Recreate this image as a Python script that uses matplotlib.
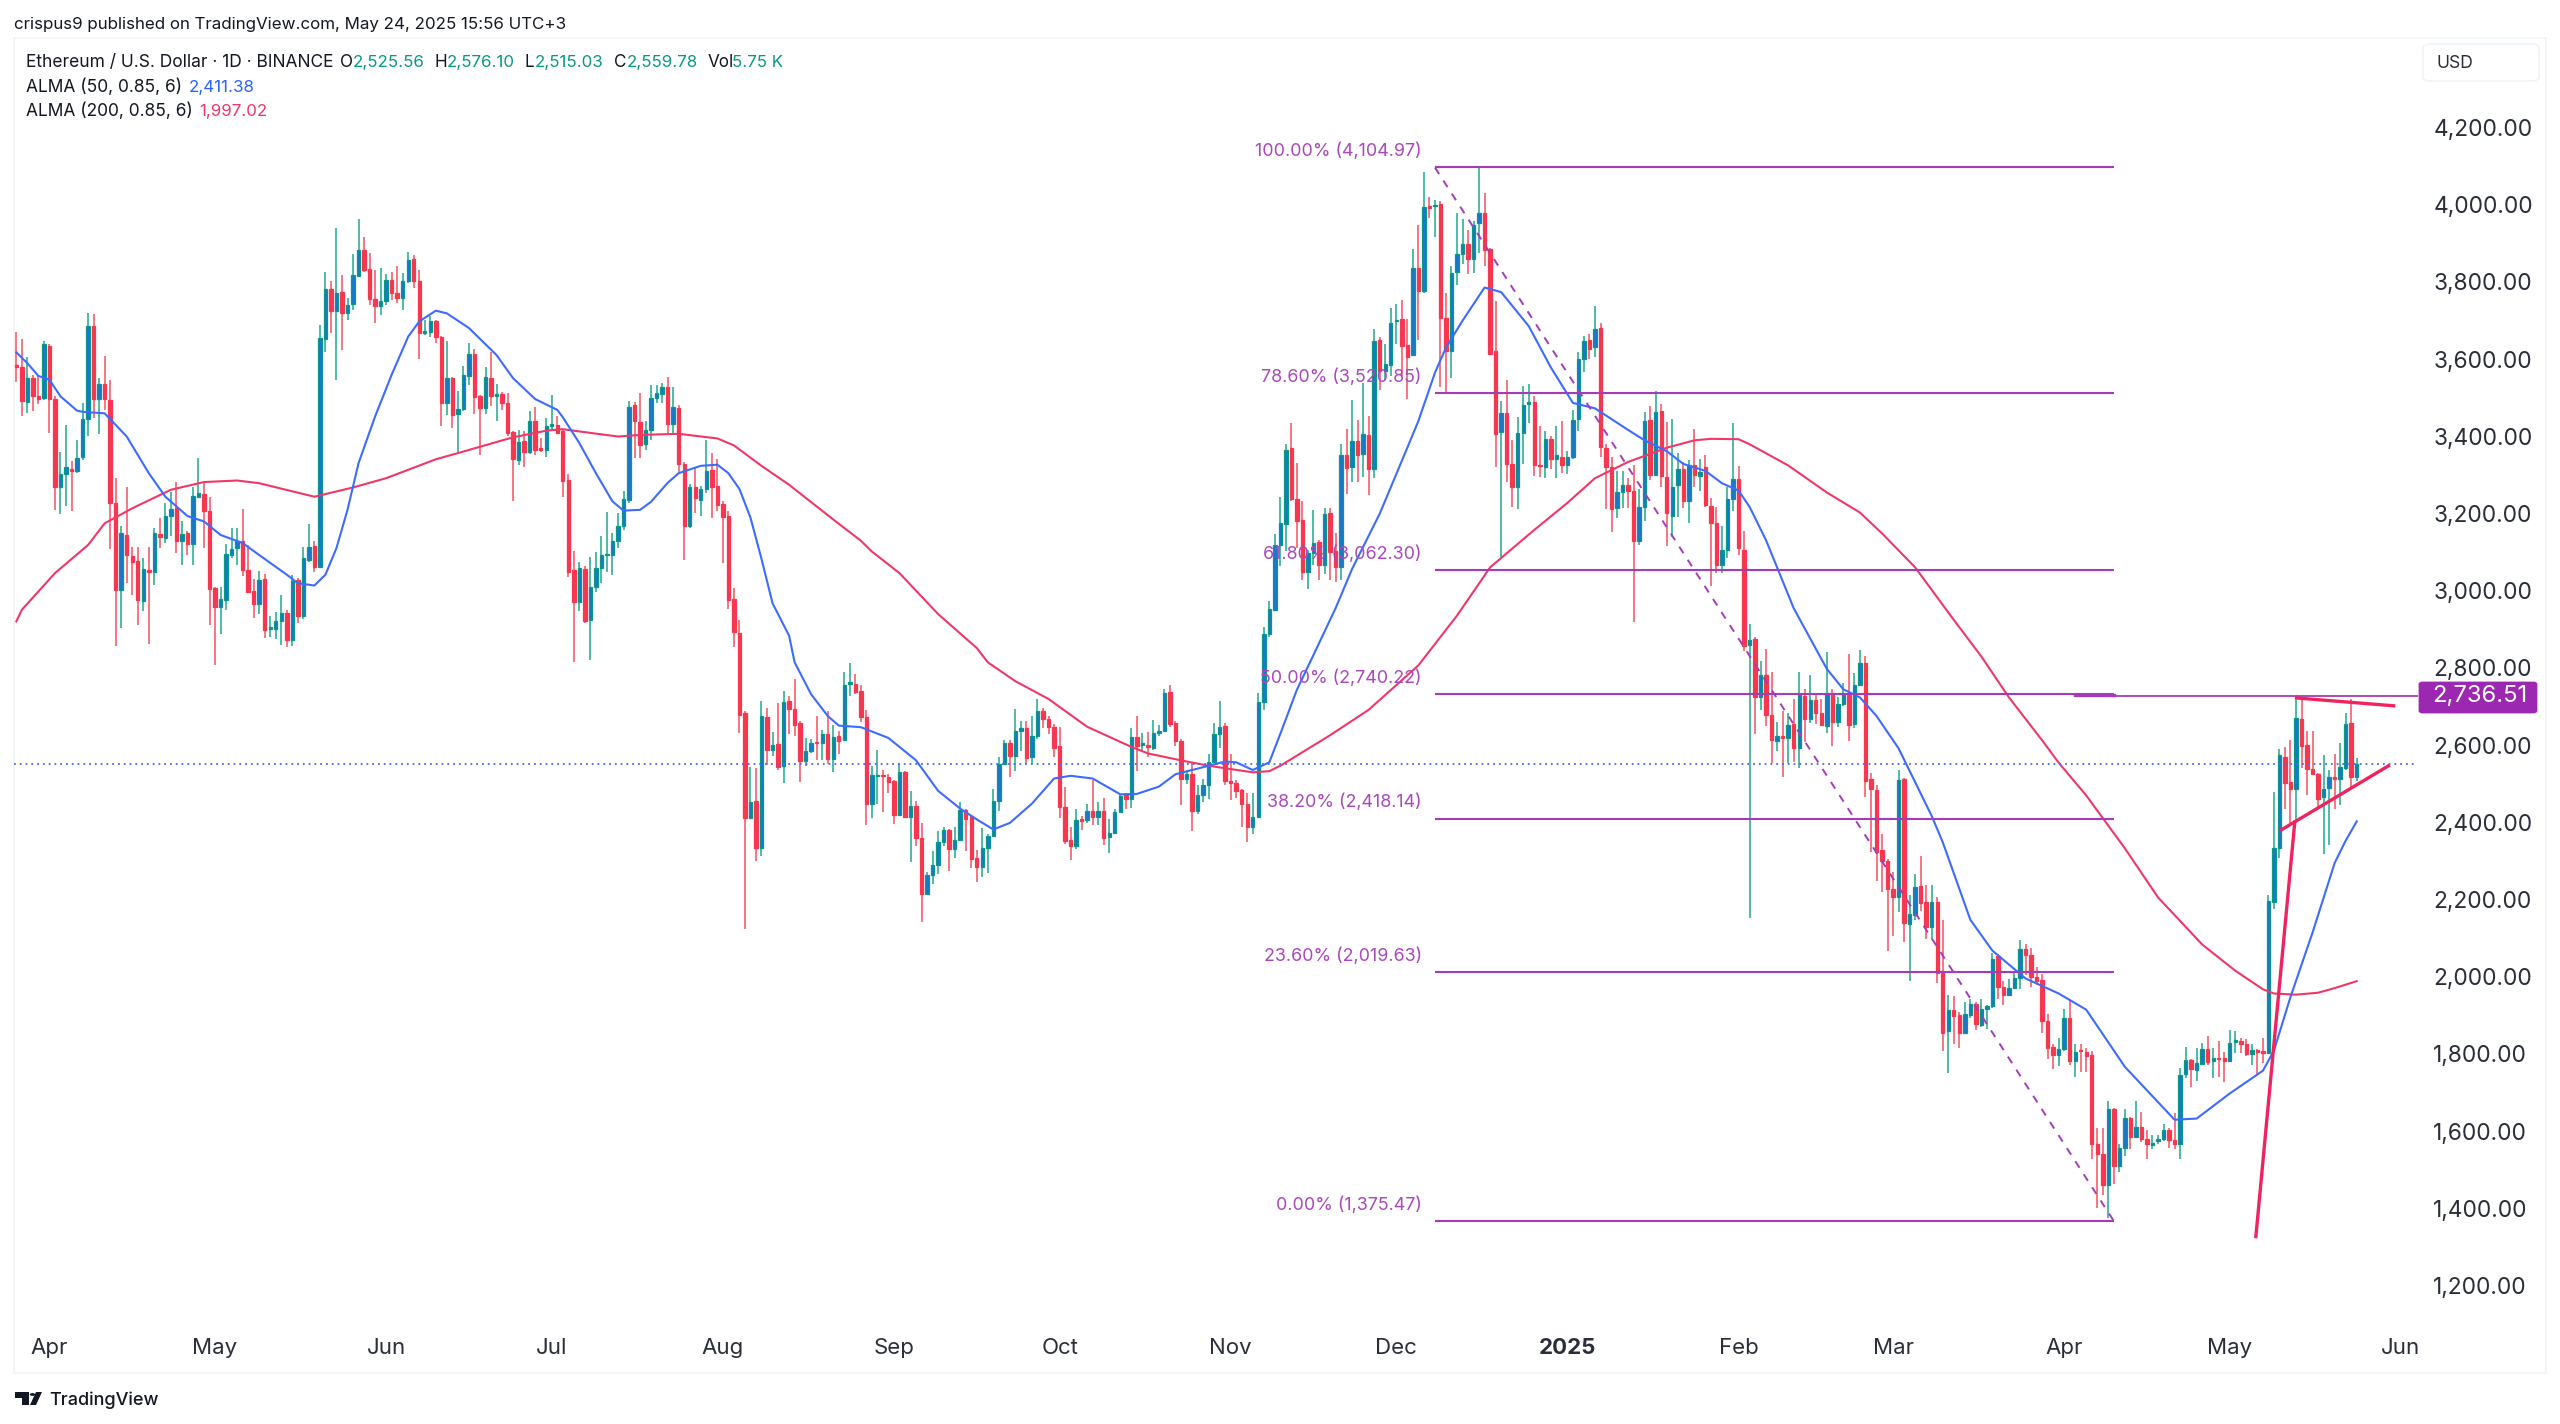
import numpy as np
import pandas as pd
import matplotlib
matplotlib.use('Agg')
import matplotlib.pyplot as plt
from matplotlib.patches import Rectangle, FancyBboxPatch, Polygon, Circle
from matplotlib.transforms import ScaledTranslation

plt.rcParams['font.family'] = ['Inter', 'DejaVu Sans']

# daily candles (open, high, low, close), first one is 2024-03-26
candles_spring_2024 = [
    (3583,3669,3539,3578),(3578,3652,3451,3490),(3489,3604,3459,3550),(3550,3559,3465,3503),(3504,3559,3483,3497),
    (3498,3647,3494,3638),(3634,3638,3408,3496),(3497,3503,3209,3267),(3269,3358,3197,3302),(3301,3429,3218,3319),
    (3316,3335,3207,3310),(3310,3389,3304,3343),(3345,3485,3338,3445),(3444,3718,3401,3686),(3684,3716,3446,3497),
    (3497,3550,3406,3535),(3534,3608,3468,3496),(3494,3546,3107,3228),(3226,3291,2855,3002),(3002,3167,2902,3149),
    (3144,3269,3019,3092),(3090,3114,2989,3075),(3077,3114,2911,2976),(2974,3084,2948,3056),(3053,3114,2861,3048),
    (3048,3161,3015,3148),(3146,3187,3110,3138),(3137,3226,3123,3192),(3192,3256,3140,3211),(3213,3282,3097,3129),
    (3127,3179,3066,3146),(3148,3153,3092,3121),(3121,3269,3065,3246),(3243,3344,3243,3252),(3249,3282,3110,3206),
    (3205,3242,2911,3004),(3006,3010,2807,2958),(2958,3009,2887,2978),(2976,3120,2950,3095),(3092,3161,3085,3108),
    (3111,3161,3066,3129),(3129,3212,3038,3053),(3053,3118,2995,2997),(2999,3029,2930,2965),(2965,3051,2940,3028),
    (3029,3043,2876,2898),(2901,2933,2879,2905),(2901,2944,2875,2920),(2922,2989,2859,2941),(2941,2950,2853,2872),
    (2872,3041,2855,3025),(3028,3032,2917,2934),(2934,3114,2926,3084),(3079,3173,3075,3114),(3116,3127,3049,3060),
]
candles_summer_2024 = [
    (3060,3688,3058,3653),(3652,3826,3619,3780),(3780,3803,3666,3725),(3725,3940,3545,3772),(3773,3818,3623,3718),
    (3718,3757,3701,3740),(3742,3872,3727,3818),(3815,3963,3813,3882),(3882,3917,3826,3830),(3832,3874,3740,3754),
    (3754,3830,3694,3736),(3736,3835,3714,3750),(3750,3819,3740,3805),(3805,3826,3753,3772),(3772,3842,3746,3757),
    (3757,3822,3727,3802),(3802,3876,3796,3856),(3858,3869,3783,3803),(3802,3830,3599,3668),(3666,3701,3662,3673),
    (3671,3710,3658,3697),(3697,3701,3641,3656),(3656,3660,3427,3487),(3487,3647,3455,3550),(3550,3552,3420,3455),
    (3458,3518,3356,3470),(3471,3582,3464,3559),(3557,3641,3533,3613),(3613,3625,3458,3501),(3503,3507,3350,3474),
    (3474,3578,3458,3552),(3550,3617,3477,3503),(3503,3535,3438,3509),(3509,3515,3468,3487),(3487,3513,3401,3409),
    (3410,3414,3233,3342),(3338,3416,3325,3384),(3387,3414,3319,3359),(3359,3464,3354,3439),(3439,3475,3351,3364),
    (3369,3395,3360,3364),(3364,3448,3347,3425),(3425,3507,3412,3431),(3429,3453,3406,3409),(3412,3416,3243,3284),
    (3287,3302,3036,3048),(3053,3103,2814,2971),(2971,3073,2948,3058),(3056,3064,2915,2920),(2924,3086,2819,3010),
    (3010,3101,2997,3058),(3058,3142,3019,3092),(3091,3203,3047,3094),(3092,3148,3041,3127),(3127,3200,3110,3168),
    (3166,3259,3157,3237),(3235,3490,3228,3475),(3481,3489,3343,3438),(3436,3511,3343,3377),(3379,3440,3364,3416),
    (3416,3533,3390,3498),(3498,3533,3485,3511),(3509,3537,3485,3528),(3528,3552,3407,3431),(3431,3528,3407,3475),
]
candles_autumn_2024 = [
    (3474,3480,3302,3327),(3329,3332,3079,3166),(3166,3277,3161,3267),(3267,3318,3200,3240),(3235,3272,3193,3263),
    (3263,3390,3252,3309),(3311,3355,3189,3269),(3272,3341,3207,3221),(3224,3232,3070,3191),(3193,3207,2953,2976),
    (2978,3006,2853,2893),(2891,2923,2631,2677),(2683,2687,2123,2410),(2410,2543,2407,2453),(2455,2541,2300,2333),
    (2333,2715,2313,2675),(2672,2696,2548,2587),(2587,2634,2572,2601),(2602,2709,2536,2543),(2546,2740,2501,2712),
    (2714,2728,2629,2692),(2694,2770,2624,2652),(2657,2661,2504,2558),(2558,2618,2546,2583),(2583,2615,2578,2604),
    (2608,2675,2560,2604),(2604,2638,2561,2629),(2629,2687,2550,2564),(2564,2652,2529,2620),(2622,2635,2576,2610),
    (2613,2789,2610,2754),(2758,2812,2726,2762),(2758,2783,2731,2738),(2740,2754,2659,2672),(2672,2691,2393,2448),
    (2448,2546,2411,2521),(2519,2587,2448,2523),(2523,2536,2425,2519),(2516,2524,2476,2504),(2506,2509,2396,2418),
    (2418,2553,2416,2529),(2529,2532,2410,2412),(2413,2481,2296,2441),(2442,2456,2339,2358),(2360,2398,2141,2215),
    (2215,2270,2212,2263),(2263,2324,2240,2288),(2288,2376,2265,2349),(2349,2388,2339,2379),(2379,2381,2273,2330),
    (2331,2388,2308,2353),(2353,2453,2351,2432),(2432,2435,2326,2409),(2416,2419,2280,2305),(2307,2328,2245,2285),
    (2285,2386,2259,2333),(2333,2370,2268,2365),(2365,2486,2363,2455),(2456,2569,2430,2550),(2550,2613,2548,2604),
    (2606,2613,2516,2571),(2571,2694,2532,2635),(2635,2661,2583,2645),(2645,2661,2550,2567),(2569,2675,2550,2624),
    (2624,2719,2615,2687),(2687,2696,2643,2666),(2668,2675,2627,2646),(2647,2654,2569,2592),(2597,2647,2410,2439),
    (2439,2490,2344,2351),(2354,2388,2302,2337),(2337,2435,2330,2405),(2407,2416,2379,2402),(2405,2446,2398,2430),
    (2430,2509,2393,2412),(2412,2453,2393,2430),(2430,2462,2340,2358),(2361,2407,2321,2373),(2373,2435,2370,2427),
    (2427,2472,2425,2467),(2472,2476,2435,2460),(2460,2645,2436,2620),(2620,2675,2532,2597),(2600,2632,2583,2604),
    (2601,2634,2569,2595),(2592,2664,2587,2631),(2631,2652,2624,2636),(2636,2746,2634,2735),(2737,2756,2647,2655),
    (2657,2661,2597,2610),(2610,2615,2444,2513),(2513,2536,2499,2524),(2524,2555,2377,2428),(2428,2495,2421,2470),
    (2470,2513,2453,2495),(2495,2576,2460,2555),(2555,2657,2553,2627),(2627,2714,2592,2647),(2650,2657,2495,2506),
    (2506,2576,2458,2501),(2501,2509,2462,2481),(2483,2486,2387,2446),(2447,2476,2349,2387),(2387,2476,2370,2412),
]
candles_winter_2024 = [
    (2414,2735,2412,2712),(2712,2906,2691,2888),(2888,2974,2879,2953),(2950,3147,2948,3119),(3118,3241,3063,3176),
    (3173,3379,3102,3365),(3370,3433,3231,3236),(3236,3330,3109,3180),(3183,3231,3028,3048),(3048,3106,3005,3097),
    (3097,3208,3065,3123),(3125,3130,3028,3065),(3065,3215,3042,3199),(3201,3213,3028,3100),(3102,3148,3023,3060),
    (3060,3379,3026,3350),(3352,3418,3250,3317),(3319,3493,3282,3387),(3387,3441,3282,3352),(3353,3538,3294,3405),
    (3402,3453,3248,3316),(3316,3677,3291,3646),(3648,3657,3520,3569),(3569,3638,3546,3586),(3583,3731,3555,3694),
    (3697,3742,3638,3700),(3703,3752,3555,3634),(3636,3703,3495,3606),(3611,3886,3609,3835),(3835,3948,3648,3777),
    (3777,4084,3770,3993),(3996,4020,3964,3990),(3995,4013,3916,3999),(4001,4008,3527,3706),(3706,3772,3513,3620),
    (3620,3842,3550,3823),(3825,3979,3791,3872),(3872,3962,3847,3897),(3899,3934,3819,3859),(3860,3958,3823,3948),
    (3951,4096,3874,3978),(3979,4030,3840,3881),(3884,3888,3609,3613),(3620,3751,3321,3405),(3410,3490,3086,3461),
    (3460,3546,3282,3327),(3327,3389,3217,3268),(3268,3449,3211,3409),(3407,3530,3327,3481),(3484,3535,3435,3488),
    (3488,3504,3296,3324),(3326,3427,3294,3322),(3319,3412,3291,3393),(3393,3400,3316,3342),(3342,3426,3291,3350),
    (3347,3439,3305,3324),(3324,3361,3301,3347),(3345,3467,3342,3442),(3444,3618,3414,3599),(3601,3660,3567,3646),
    (3648,3664,3601,3625),(3632,3736,3604,3678),(3680,3694,3347,3372),(3370,3379,3211,3319),(3319,3347,3151,3211),
    (3213,3310,3187,3256),(3256,3310,3213,3273),(3273,3291,3215,3257),(3257,3326,2919,3127),(3127,3264,3118,3217),
    (3217,3463,3180,3439),(3442,3478,3287,3299),(3299,3518,3296,3463),(3465,3483,3268,3296),(3294,3437,3116,3202),
    (3192,3444,3139,3268),(3273,3356,3190,3316),(3316,3333,3213,3231),(3231,3338,3176,3326),(3326,3418,3268,3299),
    (3296,3342,3259,3307),(3319,3350,3217,3222),(3220,3240,3011,3174),(3176,3217,3046,3067),(3067,3167,3046,3105),
    (3105,3268,3083,3238),(3238,3435,3206,3290),(3290,3322,3092,3109),
]
candles_feb_mar_2025 = [
    (3106,3153,2843,2857),(2858,2912,2152,2873),(2874,2880,2628,2723),(2723,2818,2691,2781),(2781,2848,2649,2678),
    (2678,2789,2554,2612),(2610,2660,2583,2624),(2623,2688,2517,2617),(2617,2683,2554,2652),(2654,2718,2556,2591),
    (2591,2790,2541,2730),(2728,2746,2607,2667),(2667,2781,2658,2716),(2716,2730,2654,2683),(2683,2718,2649,2651),
    (2649,2842,2630,2734),(2734,2744,2598,2660),(2660,2723,2647,2705),(2705,2760,2702,2730),(2730,2836,2609,2652),
    (2654,2787,2644,2755),(2755,2845,2753,2811),(2813,2831,2466,2506),(2512,2527,2323,2485),(2483,2496,2247,2323),
    (2329,2369,2219,2298),(2300,2305,2067,2226),(2226,2270,2104,2205),(2205,2536,2168,2509),(2512,2514,2089,2139),
    (2136,2212,1988,2163),(2159,2266,2147,2231),(2234,2311,2171,2191),(2192,2237,2097,2129),(2129,2237,2094,2194),
    (2194,2205,1983,2009),(2015,2147,1808,1853),(1859,1951,1750,1914),(1914,1949,1824,1898),(1901,1907,1814,1853),
    (1853,1935,1851,1903),(1900,1943,1893,1930),(1930,1935,1861,1877),(1875,1943,1869,1916),(1917,1925,1864,1923),
    (1923,2062,1919,2046),(2052,2059,1943,1972),(1972,1988,1927,1953),(1953,1993,1951,1969),(1969,2009,1967,1995),
    (1995,2094,1967,2071),(2071,2085,2004,2057),(2057,2073,1974,1999),(1999,2025,1978,1988),(1991,2006,1854,1886),
    (1886,1904,1787,1816),(1817,1824,1761,1796),(1796,1840,1768,1812),(1812,1916,1808,1893),(1893,1943,1771,1782),
    (1782,1824,1740,1805),(1810,1824,1753,1807),(1805,1814,1752,1795),
]
candles_apr_may_2025 = [
    (1796,1808,1528,1565),(1565,1607,1401,1539),(1541,1607,1433,1459),(1459,1678,1375,1658),(1658,1660,1463,1509),
    (1509,1565,1494,1555),(1555,1658,1536,1634),(1634,1636,1552,1583),(1583,1678,1581,1611),(1611,1650,1570,1579),
    (1578,1602,1526,1565),(1564,1589,1552,1568),(1575,1589,1565,1578),(1578,1618,1574,1602),(1602,1607,1555,1576),
    (1576,1647,1552,1567),(1567,1764,1528,1745),(1748,1817,1737,1785),(1784,1787,1713,1761),(1758,1816,1729,1777),
    (1774,1829,1771,1811),(1811,1845,1771,1779),(1780,1814,1736,1789),(1790,1832,1740,1786),(1789,1805,1727,1782),
    (1782,1861,1780,1827),(1831,1859,1801,1835),(1833,1840,1803,1824),(1824,1837,1795,1800),(1798,1824,1771,1810),
    (1810,1812,1745,1805),(1807,1840,1777,1803),(1803,2210,1801,2196),(2194,2479,2176,2334),(2334,2589,2308,2574),
    (2569,2594,2433,2502),(2504,2614,2398,2487),(2485,2724,2406,2670),(2666,2716,2539,2598),(2600,2635,2471,2537),
    (2537,2637,2523,2525),(2525,2527,2438,2461),(2464,2574,2317,2485),(2488,2534,2340,2516),(2518,2577,2433,2513),
    (2513,2604,2444,2542),(2540,2683,2534,2655),(2656,2719,2490,2516),
]
last_candle = (2525.56, 2576.10, 2515.03, 2559.78)

# ALMA lines at these bar numbers
alma50_bars = [0,2,4,6,8,11,12,16,20,24,27,31,34,37,41,44,49,51,54,56,58,60,62,65,68,71,73,76,78,82,87,90,94,98,99,102,105,108,110,113,
               115,118,120,124,127,129,131,133,135,137,140,141,144,147,149,153,158,163,167,171,174,177,180,184,188,191,195,200,203,207,210,216,219,221,224,227,229,
               232,235,239,242,247,252,254,257,259,262,266,269,274,278,282,286,292,295,299,302,306,309,312,314,317,322,
               328,331,334,337,341,347,349,354,358,364,370,375,382,391,395,401,407,409,412,416,420,422,424]
alma50_values = [3617,3589,3556,3546,3503,3466,3463,3459,3399,3304,3243,3193,3179,3144,3123,3092,3041,3019,3013,3041,3110,3209,3330,3451,3559,3658,3697,3725,3718,3680,3610,3550,3496,3468,3449,3382,3304,3231,3207,3209,
                 3230,3279,3304,3323,3326,3304,3263,3189,3082,2967,2883,2814,2731,2675,2650,2646,2618,2560,2481,2435,2407,2381,2398,2448,2513,2520,2513,2472,2473,2492,2524,2546,2557,2555,2535,2555,2629,
                 2743,2833,2954,3056,3199,3370,3439,3564,3629,3699,3785,3773,3685,3578,3486,3472,3416,3389,3361,3328,3310,3278,3259,3217,3130,2954,
                 2797,2744,2723,2675,2591,2416,2348,2147,2067,1995,1956,1914,1766,1629,1632,1697,1756,1808,1947,2114,2294,2352,2402]
alma200_bars = [0,1,7,13,16,21,28,34,40,44,54,61,67,76,80,90,96,99,101,109,113,
                120,127,130,135,140,148,153,155,160,167,174,176,181,187,194,202,205,211,216,224,227,229,238,245,
                254,261,267,275,281,286,292,299,304,307,312,314,321,328,334,338,344,351,
                356,361,367,370,375,382,388,396,402,407,409,413,417,420,424]
alma200_values = [2920,2950,3045,3118,3174,3213,3261,3281,3285,3278,3243,3267,3291,3340,3356,3397,3414,3418,3414,3399,3403,
                  3406,3394,3376,3323,3274,3184,3129,3101,3045,2939,2851,2814,2765,2719,2647,2595,2578,2560,2546,2529,2532,2546,2625,2691,
                  2806,2935,3060,3157,3227,3291,3333,3370,3389,3393,3392,3379,3324,3254,3202,3148,3060,2924,
                  2829,2723,2612,2554,2469,2332,2205,2083,2015,1967,1956,1953,1958,1970,1988]
read_offset = 9

fib_ratios = ['100.00%', '78.60%', '61.80%', '50.00%', '38.20%', '23.60%', '0.00%']
fib_levels = [4104.97, 3520.85, 3062.30, 2740.22, 2418.14, 2019.63, 1375.47]
fib_start_bar, fib_end_bar = 257, 380

# hand drawn flag on the right, (bar, price) ends
flag_pole = ([405.7, 412.8], [1331, 2413])
flag_top = ([412.8, 431], [2731, 2710])
flag_bottom = ([410, 430], [2386, 2557])

hline_price = 2736.51
hline_start_bar = 373
last_close = 2559.78

price_ticks = list(range(1200, 4400, 200))
month_dates = ['2024-04-01', '2024-05-01', '2024-06-01', '2024-07-01', '2024-08-01', '2024-09-01', '2024-10-01', '2024-11-01',
               '2024-12-01', '2025-01-01', '2025-02-01', '2025-03-01', '2025-04-01', '2025-05-01', '2025-06-01']
month_labels = ['Apr', 'May', 'Jun', 'Jul', 'Aug', 'Sep', 'Oct', 'Nov', 'Dec', '2025', 'Feb', 'Mar', 'Apr', 'May', 'Jun']

W, H = 2560, 1424
TEXT = '#131722'
AXIS_TEXT = '#2A2E39'
GREEN = '#089981'
WICK_UP = '#1FA88C'
BLUE_BODY = '#1976D2'
RED = '#F7374F'
WICK_DOWN = '#F5515F'
ALMA_BLUE = '#3D6BFF'
ALMA_PINK = '#F03768'
FIB = '#A53BBB'
FIB_TEXT = '#AB47BC'
PURPLE = '#9C27B0'
DRAW_PINK = '#F0235F'
FRAME = '#F0F3FA'

ohlc = np.array(candles_spring_2024 + candles_summer_2024 + candles_autumn_2024
                + candles_winter_2024 + candles_feb_mar_2025 + candles_apr_may_2025, dtype=float) + read_offset
ohlc = np.vstack([ohlc, last_candle])
opens, highs, lows, closes = ohlc.T
bars = np.arange(len(ohlc))
first_day = pd.Timestamp('2025-05-24') - pd.Timedelta(days=len(ohlc) - 1)
up = closes >= opens
alma50 = np.array(alma50_values) + read_offset
alma200 = np.array(alma200_values) + read_offset


def fx(x):
    return x / W


def fy(y):
    return 1 - y / H


def label(x, y, s, color=TEXT, size=12.3, **kw):
    fig.text(fx(x), fy(y), s, color=color, fontsize=size, va='center', **kw)


fig = plt.figure(figsize=(W / 100, H / 100), dpi=100, facecolor='white')

fig.add_artist(Rectangle((fx(14), fy(1373)), (2546 - 14) / W, (1373 - 38) / H, transform=fig.transFigure,
                         facecolor='none', edgecolor=FRAME, linewidth=1.2))

# chart area in pixels: x 14..2418, y 38..1325
ax = fig.add_axes([fx(14), fy(1325), (2418 - 14) / W, (1325 - 38) / H])
ax.patch.set_alpha(0)
ax.set_zorder(2)
for side in ax.spines.values():
    side.set_visible(False)
ax.set_xlim(-0.42, 435.1)
ax.set_ylim(1106.2, 4440.4)

# candles
ax.vlines(bars[up], lows[up], highs[up], color=WICK_UP, linewidth=1.1, zorder=2)
ax.vlines(bars[~up], lows[~up], highs[~up], color=WICK_DOWN, linewidth=1.1, zorder=2)
ax.bar(bars[up], (closes - opens)[up], bottom=opens[up], width=0.62,
       facecolor=BLUE_BODY, edgecolor=GREEN, linewidth=0.9, zorder=3)
ax.bar(bars[~up], (opens - closes)[~up], bottom=closes[~up], width=0.62,
       facecolor=RED, edgecolor=RED, linewidth=0.9, zorder=3)

ax.plot(alma200_bars, alma200, color=ALMA_PINK, linewidth=1.5, zorder=4)
ax.plot(alma50_bars, alma50, color=ALMA_BLUE, linewidth=1.5, zorder=4)

ax.plot([-0.42, 434.5], [last_close, last_close], color=ALMA_BLUE, linewidth=1.3,
        linestyle=(0, (1, 2.2)), zorder=4)

# fib retracement
ax.hlines(fib_levels, fib_start_bar, fib_end_bar, color=FIB, linewidth=1.5, zorder=5)
ax.plot([fib_start_bar, fib_end_bar], [fib_levels[0], fib_levels[-1]], color=FIB, linewidth=1.4,
        linestyle=(0, (4, 4)), zorder=5)
for ratio, level in zip(fib_ratios, fib_levels):
    ax.annotate('%s (%s)' % (ratio, format(level, ',.2f')), xy=(254.6, level), xytext=(0, 11.5),
                textcoords='offset points', ha='right', va='center', color=FIB_TEXT, fontsize=12.9, zorder=6)

ax.plot([hline_start_bar, 435.1], [hline_price, hline_price], color=FIB, linewidth=1.3, zorder=5)
ax.plot([hline_start_bar, fib_end_bar], [fib_levels[3] - 2, fib_levels[3] - 2], color=FIB, linewidth=2.4, zorder=5)

for line in (flag_pole, flag_top, flag_bottom):
    ax.plot(line[0], line[1], color=DRAW_PINK, linewidth=2.4, solid_capstyle='butt', zorder=6)

# axes
ax.yaxis.tick_right()
ax.set_yticks(price_ticks)
ax.set_yticklabels([format(p, ',.2f') for p in price_ticks])
ax.tick_params(axis='y', length=0, pad=11, labelsize=16.4, labelcolor=AXIS_TEXT)
nudge = ScaledTranslation(0, 2.4 / 72, fig.dpi_scale_trans)
for tick in ax.get_yticklabels():
    tick.set_transform(tick.get_transform() + nudge)
month_bars = [(pd.Timestamp(d) - first_day).days for d in month_dates]
ax.set_xticks(month_bars)
ax.set_xticklabels(month_labels)
ax.tick_params(axis='x', length=0, pad=9.5, labelsize=16, labelcolor=AXIS_TEXT)
for tick in ax.get_xticklabels():
    if tick.get_text() == '2025':
        tick.set_fontweight('bold')

# price tag on the scale
tag = FancyBboxPatch((fx(2420), fy(712)), 116 / W, 29 / H, transform=fig.transFigure,
                     boxstyle='round,pad=0,rounding_size=0.001', facecolor=PURPLE, edgecolor=PURPLE, linewidth=2, zorder=5)
fig.add_artist(tag)
label(2480, 696, format(hline_price, ',.2f'), color='white', size=17.2, ha='center', zorder=6)

# currency button
fig.add_artist(FancyBboxPatch((fx(2423), fy(81)), 116 / W, 37 / H, transform=fig.transFigure,
                              boxstyle='round,pad=0,rounding_size=0.003', facecolor='white', edgecolor=FRAME, linewidth=1.2))
label(2436, 63.5, 'USD', color=AXIS_TEXT, size=12.6)

# header
label(14, 24, 'crispus9 published on TradingView.com, May 24, 2025 15:56 UTC+3', size=12.2)
label(26, 62.5, 'Ethereum / U.S. Dollar · 1D · BINANCE', size=12.5)
header_parts = [(340, 'O', 353, '2,525.56'), (434, 'H', 447, '2,576.10'), (525, 'L', 535, '2,515.03'),
                (614, 'C', 627, '2,559.78'), (708, 'Vol', 732, '5.75 K')]
for x1, name, x2, val in header_parts:
    label(x1, 62.5, name)
    label(x2, 62.5, val, color=GREEN, size=12.2)
label(26, 87.5, 'ALMA (50, 0.85, 6)', size=12.5)
label(189, 87.5, '2,411.38', color='#2962FF', size=12.2)
label(26, 111.5, 'ALMA (200, 0.85, 6)', size=12.5)
label(199, 111.5, '1,997.02', color='#F23468', size=12.2)

# logo + name at the bottom
for pts in ([(15, 1392), (29, 1392), (29, 1405), (22, 1405), (22, 1398), (15, 1398)],
            [(36, 1392), (42, 1392), (36, 1405), (30, 1405)]):
    fig.add_artist(Polygon([(fx(a), fy(b)) for a, b in pts], closed=True, transform=fig.transFigure,
                           facecolor=TEXT, edgecolor='none'))
fig.add_artist(Circle((fx(32.5), fy(1394.5)), 2.6 / W, transform=fig.transFigure, facecolor=TEXT, edgecolor='none'))
label(49, 1400, 'TradingView', size=13, fontweight='medium')

fig.savefig('out.png', dpi=100, facecolor='white')
